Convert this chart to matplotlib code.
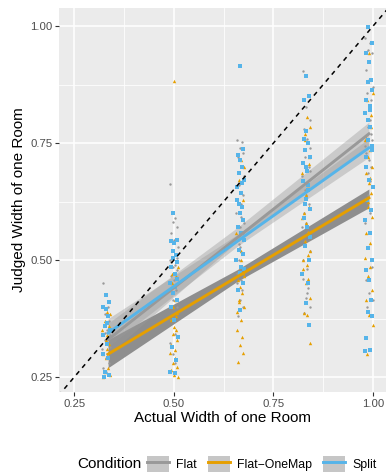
import matplotlib
matplotlib.use("Agg")
import matplotlib.pyplot as plt
from matplotlib.patches import Patch
from matplotlib.lines import Line2D

plt.rcParams["font.family"] = ["Liberation Sans", "DejaVu Sans"]

# actual widths (one column of judgements per level)
levels = [0.33, 0.50, 0.667, 0.833, 0.99]

# judged widths per level, one list per condition
flat_y = [
    [0.45, 0.40, 0.385, 0.37, 0.36, 0.35, 0.34, 0.33, 0.32, 0.31, 0.30, 0.29, 0.28, 0.27, 0.26, 0.255,
     0.345, 0.315],
    [0.663, 0.589, 0.582, 0.571, 0.557, 0.543, 0.529, 0.52, 0.514, 0.50, 0.49, 0.486, 0.479, 0.465,
     0.457, 0.436, 0.415, 0.40, 0.372, 0.343, 0.322, 0.279, 0.30, 0.505, 0.495, 0.47],
    [0.757, 0.753, 0.74, 0.73, 0.72, 0.70, 0.68, 0.66, 0.64, 0.60, 0.593, 0.571, 0.557, 0.543, 0.529,
     0.514, 0.50, 0.486, 0.472, 0.457, 0.450, 0.436, 0.415, 0.40, 0.38, 0.62, 0.58, 0.535],
    [0.904, 0.85, 0.828, 0.80, 0.78, 0.76, 0.74, 0.72, 0.70, 0.68, 0.66, 0.64, 0.62, 0.60, 0.58, 0.56,
     0.54, 0.52, 0.50, 0.48, 0.46, 0.44, 0.42, 0.40, 0.386, 0.43, 0.69, 0.65, 0.61, 0.57],
    [0.975, 0.964, 0.95, 0.942, 0.907, 0.885, 0.871, 0.857, 0.842, 0.814, 0.80, 0.785, 0.757, 0.73,
     0.714, 0.70, 0.686, 0.657, 0.629, 0.60, 0.58, 0.557, 0.529, 0.486, 0.457, 0.43, 0.415, 0.40,
     0.77, 0.745, 0.67, 0.64],
]
onemap_y = [
    [0.39, 0.385, 0.37, 0.36, 0.35, 0.34, 0.33, 0.32, 0.30, 0.29, 0.27, 0.26, 0.255, 0.25, 0.31],
    [0.883, 0.486, 0.47, 0.465, 0.436, 0.415, 0.40, 0.386, 0.372, 0.358, 0.351, 0.343, 0.329, 0.318,
     0.308, 0.301, 0.29, 0.279, 0.272, 0.265, 0.254, 0.25, 0.45, 0.38],
    [0.714, 0.70, 0.671, 0.629, 0.557, 0.50, 0.486, 0.472, 0.457, 0.443, 0.429, 0.415, 0.40, 0.39,
     0.372, 0.351, 0.336, 0.318, 0.301, 0.283, 0.52, 0.465, 0.41],
    [0.807, 0.785, 0.757, 0.72, 0.686, 0.66, 0.64, 0.614, 0.60, 0.58, 0.56, 0.54, 0.52, 0.50, 0.49,
     0.48, 0.46, 0.45, 0.42, 0.386, 0.382, 0.322, 0.77, 0.705, 0.59, 0.51],
    [0.942, 0.857, 0.842, 0.785, 0.757, 0.735, 0.72, 0.70, 0.686, 0.665, 0.643, 0.614, 0.593, 0.557,
     0.536, 0.504, 0.486, 0.465, 0.436, 0.415, 0.383, 0.361, 0.30, 0.81, 0.765, 0.675, 0.625],
]
split_y = [
    [0.425, 0.41, 0.40, 0.395, 0.38, 0.36, 0.35, 0.34, 0.32, 0.30, 0.29, 0.26, 0.255, 0.25, 0.365],
    [0.60, 0.543, 0.54, 0.536, 0.51, 0.504, 0.495, 0.486, 0.47, 0.45, 0.443, 0.43, 0.415, 0.40, 0.372,
     0.336, 0.315, 0.286, 0.261, 0.258, 0.52, 0.46],
    [0.915, 0.738, 0.725, 0.714, 0.70, 0.686, 0.671, 0.657, 0.643, 0.629, 0.614, 0.60, 0.586, 0.571,
     0.557, 0.543, 0.522, 0.514, 0.50, 0.486, 0.472, 0.45, 0.436, 0.393, 0.665, 0.62, 0.48],
    [0.894, 0.85, 0.843, 0.775, 0.75, 0.735, 0.721, 0.707, 0.69, 0.67, 0.65, 0.63, 0.61, 0.59, 0.57,
     0.55, 0.53, 0.50, 0.47, 0.45, 0.408, 0.361, 0.76, 0.70, 0.66, 0.62],
    [0.999, 0.964, 0.942, 0.924, 0.885, 0.88, 0.864, 0.842, 0.821, 0.814, 0.785, 0.757, 0.735, 0.70,
     0.671, 0.657, 0.629, 0.607, 0.586, 0.557, 0.525, 0.50, 0.479, 0.457, 0.415, 0.39, 0.38, 0.333,
     0.308, 0.305, 0.83, 0.80, 0.745, 0.72],
]

# fitted lines and confidence bands
fit_x = [0.335, 0.99]
flat_fit = [0.33, 0.77]
onemap_fit = [0.299, 0.633]
split_fit = [0.344, 0.740]

band_x = [0.335, 0.66, 0.99]
flat_lo = [0.298, 0.540, 0.745]
flat_hi = [0.365, 0.570, 0.795]
onemap_lo = [0.270, 0.455, 0.612]
onemap_hi = [0.330, 0.480, 0.652]
split_lo = [0.315, 0.530, 0.720]
split_hi = [0.375, 0.555, 0.760]

conditions = ["Flat", "Flat\u2212OneMap", "Split"]
colors = ["#999999", "#E69F00", "#56B4E9"]

# small fixed horizontal spread so the points in a column don't pile up
jitter = [-0.009, 0.004, -0.002, 0.008, -0.006, 0.001, 0.010, -0.004, 0.006, -0.010,
          0.003, -0.001, 0.007, -0.007, 0.0, 0.005, -0.003, 0.009, -0.008, 0.002]


def scatter_condition(ax, ys, color, marker, size, shift):
    xs, vals = [], []
    for lev, col in zip(levels, ys):
        for i, v in enumerate(col):
            xs.append(lev + jitter[(i + shift) % len(jitter)])
            vals.append(v)
    ax.scatter(xs, vals, s=size, marker=marker, color=color, linewidths=0, zorder=3)


fig = plt.figure(figsize=(3.86, 4.72), dpi=100)
ax = fig.add_axes([0.1528, 0.1695, 0.8472, 0.8135])
ax.set_facecolor("#EBEBEB")
for s in ax.spines.values():
    s.set_visible(False)

ax.set_xlim(0.2115, 1.033)
ax.set_ylim(0.218, 1.039)
ticks = [0.25, 0.50, 0.75, 1.00]
ax.set_xticks(ticks)
ax.set_yticks(ticks)
ax.set_xticklabels(["0.25", "0.50", "0.75", "1.00"])
ax.set_yticklabels(["0.25", "0.50", "0.75", "1.00"])
ax.set_xticks([0.375, 0.625, 0.875], minor=True)
ax.set_yticks([0.375, 0.625, 0.875], minor=True)
ax.grid(which="major", color="white", linewidth=1.1)
ax.grid(which="minor", color="white", linewidth=0.55)
ax.set_axisbelow(True)
ax.tick_params(which="major", length=2.7, width=0.8, color="#333333",
               labelsize=8.2, labelcolor="#4D4D4D", pad=2)
ax.tick_params(which="minor", length=0)

# confidence bands
ax.fill_between(band_x, onemap_lo, onemap_hi, color="#8E8E8E", linewidth=0, zorder=2)
ax.fill_between(band_x, flat_lo, flat_hi, color="#999999", alpha=0.4, linewidth=0, zorder=2)
ax.fill_between(band_x, split_lo, split_hi, color="#999999", alpha=0.4, linewidth=0, zorder=2)

scatter_condition(ax, flat_y, colors[0], "o", 3, 0)
scatter_condition(ax, onemap_y, colors[1], "^", 6, 5)
scatter_condition(ax, split_y, colors[2], "s", 8, 11)

ax.plot(fit_x, flat_fit, color=colors[0], linewidth=2.1, zorder=4)
ax.plot(fit_x, onemap_fit, color=colors[1], linewidth=2.1, zorder=4)
ax.plot(fit_x, split_fit, color=colors[2], linewidth=2.1, zorder=4)

# identity line
ax.plot([0, 1.1], [0, 1.1], color="black", linestyle=(0, (3, 3)), linewidth=1.1, zorder=5)

ax.set_xlabel("Actual Width of one Room", fontsize=11, labelpad=2)
ax.set_ylabel("Judged Width of one Room", fontsize=11, labelpad=3)

handles = [(Patch(facecolor="#C6C6C6", edgecolor="none"), Line2D([], [], color=c, linewidth=2.1))
           for c in colors]
fig.text(0.20, 0.017, "Condition", fontsize=11, ha="left", va="center")
fig.legend(handles, conditions, loc="center left", bbox_to_anchor=(0.381, 0.017), ncol=3,
           frameon=False, fontsize=8.8, handlelength=1.8, handleheight=1.6,
           handletextpad=0.6, columnspacing=0.9, borderpad=0, borderaxespad=0)

fig.savefig("out.png", dpi=100)
